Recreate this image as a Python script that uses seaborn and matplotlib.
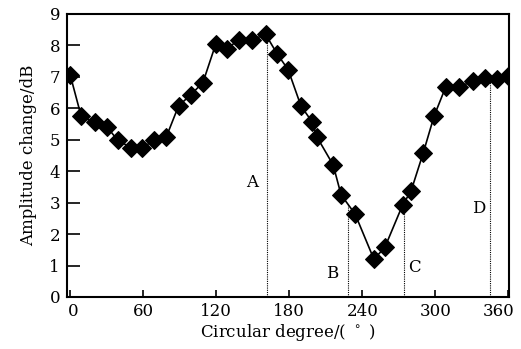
import matplotlib
matplotlib.use("Agg")
import matplotlib.pyplot as plt
import matplotlib.transforms as mtransforms
import seaborn as sns
import pandas as pd

degrees = [0, 9, 20, 30, 39, 50, 59, 69, 79, 89, 99, 109, 119.5, 128.5, 138.5, 149.5, 160.5,
           170, 179, 189.5, 199, 202.5, 216, 222.5, 234, 249.5, 258.5, 273, 280, 290, 299,
           308.5, 319.5, 330.5, 341, 350.5, 360]
amplitude = [7.05, 5.74, 5.55, 5.42, 4.98, 4.75, 4.75, 4.98, 5.1, 6.08, 6.43, 6.82, 8.04,
             7.89, 8.18, 8.18, 8.35, 7.73, 7.23, 6.08, 5.55, 5.1, 4.2, 3.25, 2.64, 1.2, 1.58,
             2.92, 3.37, 4.58, 5.76, 6.68, 6.68, 6.86, 6.95, 6.93, 7.02]
marker_labels = ["A", "B", "C", "D"]
marker_x = [162, 228.5, 274, 345]
marker_top = [8.35, 2.95, 2.92, 6.95]
label_x = [149, 215, 283, 336]
label_y = [3.63, 0.75, 0.95, 2.8]
xticks = [0, 60, 120, 180, 240, 300, 360]
yticks = list(range(0, 10))

sns.set_theme(style="white")
plt.rcParams["font.family"] = ["DejaVu Serif"]

fig = plt.figure(figsize=(5.21, 3.49), dpi=100)
ax = fig.add_axes([0.1286, 0.149, 0.8484, 0.811])

df = pd.DataFrame({"deg": degrees, "amp": amplitude})
sns.lineplot(data=df, x="deg", y="amp", ax=ax, color="black", linewidth=1.2,
             marker="D", markersize=9.5, markeredgecolor="black", markerfacecolor="black")

ax.vlines(marker_x, 0, marker_top, colors="black", linestyles=(0, (1, 1)), linewidth=0.8)
for lab, lx, ly in zip(marker_labels, label_x, label_y):
    ax.text(lx, ly, lab, fontsize=12, ha="center", va="center", color="black")

ax.set_xlim(-2.7, 360.5)
ax.set_ylim(0, 9)
ax.set_xticks(xticks)
ax.set_yticks(yticks)
ax.tick_params(axis="both", direction="in", labelsize=12, colors="black",
               top=False, right=False, bottom=True, left=True, width=1.2)
ax.tick_params(axis="x", length=5, pad=4)
ax.tick_params(axis="y", length=9, pad=5)
for s in ax.spines.values():
    s.set_color("black")
    s.set_linewidth(1.5)
    s.set_visible(True)
ax.set_xlabel("Circular degree/( $^\\circ$ )", fontsize=12, color="black", labelpad=2)
ax.set_ylabel("Amplitude change/dB", fontsize=12, color="black", labelpad=9)

fig.canvas.draw()
xlabels = ax.get_xticklabels()
xlabels[0].set_transform(xlabels[0].get_transform() +
                         mtransforms.ScaledTranslation(3 / 100, 0, fig.dpi_scale_trans))
xlabels[-1].set_transform(xlabels[-1].get_transform() +
                          mtransforms.ScaledTranslation(-10 / 100, 0, fig.dpi_scale_trans))

fig.savefig("out.png", dpi=100)
